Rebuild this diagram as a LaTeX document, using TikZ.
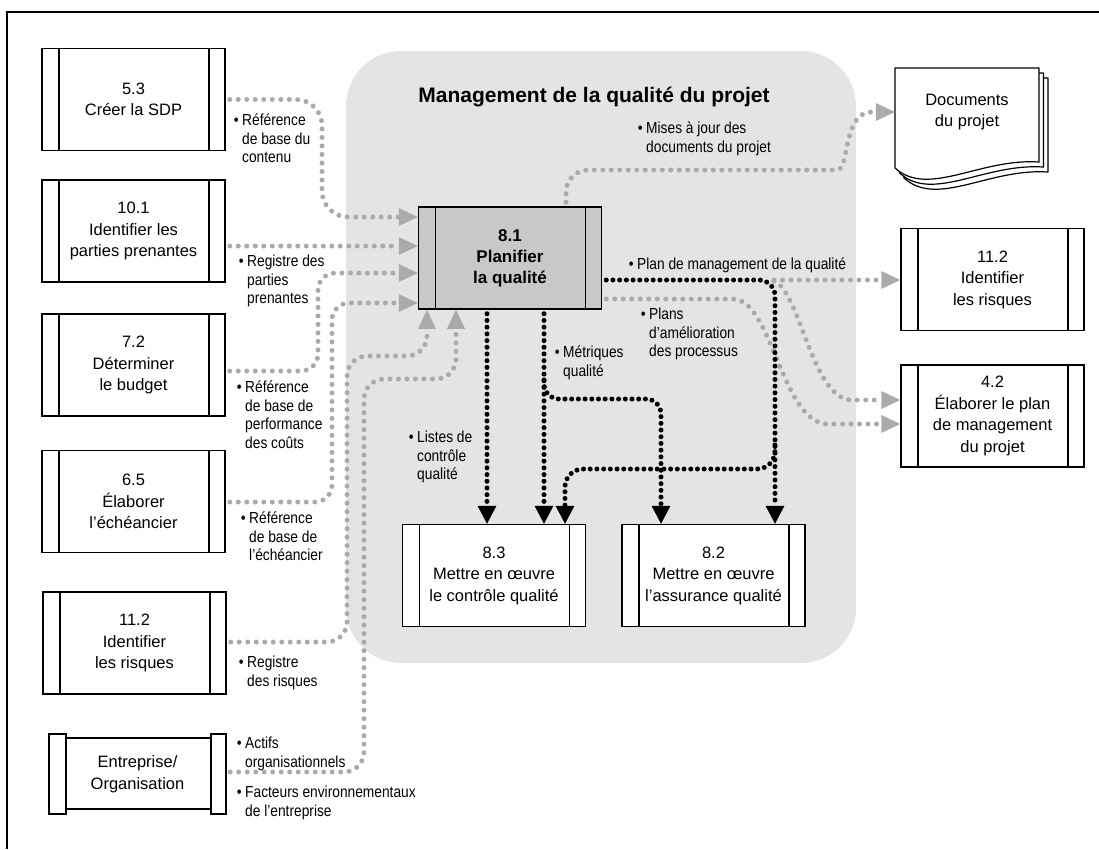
\documentclass[tikz,border=0pt]{standalone}
\usepackage{fontspec}
\setmainfont{Liberation Sans}
\newfontfamily\condfont[FakeStretch=0.86]{Liberation Sans}
\usetikzlibrary{arrows.meta}
\definecolor{regiongray}{RGB}{227,228,227}
\definecolor{boxgray}{RGB}{199,200,200}
\definecolor{dotgray}{RGB}{170,170,170}
\newcommand\bxfont{\fontsize{16.5}{21.5}\selectfont}
\newcommand\lbltext[1]{{\condfont\fontsize{16}{18.5}\selectfont\begin{tabular}[t]{@{}l@{}}\llap{•\hspace{3.5pt}}#1\end{tabular}}}
\tikzset{
  procbox/.style={draw, line width=1.5pt, fill=white, rectangle,
    minimum width=183pt, minimum height=102pt, inner sep=0pt, align=center, font=\bxfont,
    path picture={\draw[line width=1.5pt]
      ([xshift=17pt]path picture bounding box.north west) -- ([xshift=17pt]path picture bounding box.south west)
      ([xshift=-16pt]path picture bounding box.north east) -- ([xshift=-16pt]path picture bounding box.south east);}},
  graylink/.style={draw=dotgray, line width=5pt, line cap=round, dash pattern=on 0pt off 8.5pt,
    shorten <=4pt, -{Triangle[length=19pt,width=18pt,line width=0pt]}},
  blacklink/.style={draw=black, line width=5pt, line cap=round, dash pattern=on 0pt off 6.7pt,
    shorten <=4pt, -{Triangle[length=18pt,width=19pt,line width=0pt]}},
  lbl/.style={anchor=base west, inner sep=0pt},
  pageline/.style={draw, fill=white, line width=1.2pt, line join=round}
}
\begin{document}
\begin{tikzpicture}[x=1pt,y=-1pt]
\useasboundingbox (0,0) rectangle (1099,849);
% frame
\draw[line width=2pt] (7,849) -- (7,12) -- (1099,12);
% region
\fill[regiongray, rounded corners=55pt] (346,51) rectangle (856,663);
\node[font=\fontsize{21}{25}\selectfont\bfseries] (title) at (594,97) {Management de la qualité du projet};

% left process boxes
\node[procbox] (n53) at (133.5,99.5) {5.3\\Créer la SDP};
\node[procbox] (n101) at (133.5,231) {10.1\\Identifier les\\parties prenantes};
\node[procbox] (n72) at (133.5,365) {7.2\\Déterminer\\le budget};
\node[procbox] (n65) at (133.5,501.5) {6.5\\Élaborer\\l’échéancier};
\node[procbox] (n112l) at (134.5,643) {11.2\\Identifier\\les risques};
% Entreprise / Organisation
\draw[line width=1.5pt, fill=white] (66,738) rectangle (211,809);
\draw[line width=1.5pt, fill=white] (49,734) rectangle (66,814);
\draw[line width=1.5pt, fill=white] (211,734) rectangle (226,814);
\node[minimum width=177pt, minimum height=80pt, inner sep=0pt, align=center, font=\bxfont] (ent) at (137.5,774) {Entreprise/\\Organisation};

% central boxes
\node[procbox, fill=boxgray, font=\fontsize{17}{21}\selectfont\bfseries] (n81) at (510,258) {8.1\\Planifier\\la qualité};
\node[procbox] (n83) at (494,575.5) {8.3\\Mettre en œuvre\\le contrôle qualité};
\node[procbox] (n82) at (713.5,575.5) {8.2\\Mettre en œuvre\\l’assurance qualité};

% right boxes
\node[procbox] (n112r) at (992.5,279.5) {11.2\\Identifier\\les risques};
\node[procbox] (n42) at (992.5,416) {4.2\\Élaborer le plan\\de management\\du projet};

% documents
\begin{scope}[shift={(9,10)}]
\path[pageline] (895,68) -- (1039,68) -- (1039,162) .. controls (980,158) and (928,198) .. (895,168) -- cycle;
\end{scope}
\begin{scope}[shift={(4.5,5)}]
\path[pageline] (895,68) -- (1039,68) -- (1039,162) .. controls (980,158) and (928,198) .. (895,168) -- cycle;
\end{scope}
\path[pageline] (895,68) -- (1039,68) -- (1039,162) .. controls (980,158) and (928,198) .. (895,168) -- cycle;
\node[minimum width=144pt, minimum height=100pt, inner sep=0pt, align=center, font=\bxfont] (docs) at (967,112) {Documents\\du projet};

% inputs (gray)
\draw[graylink, rounded corners=26pt] (n53.east) -- (322,99.5) -- (322,217) -- (n81.west |- 0,217);
\draw[graylink] (n101.east |- 0,246) -- (n81.west |- 0,246);
\draw[graylink, rounded corners=17pt] (n72.east |- 0,371) -- (318,371) -- (318,273) -- (n81.west |- 0,273);
\draw[graylink, rounded corners=17pt] (n65.east |- 0,502) -- (332,502) -- (332,303) -- (n81.west |- 0,303);
\draw[graylink, rounded corners=20pt] (n112l.east |- 0,642) -- (347,642) -- (347,356) -- (427,356) -- (n81.south -| 427,0);
\draw[graylink, rounded corners=20pt] (ent.east |- 0,772) -- (364,772) -- (364,379) -- (456,379) -- (n81.south -| 456,0);

% outputs (gray)
\draw[graylink] (n81.north -| 566,0) [rounded corners=22pt] -- (566,170) -- (815,170) [sharp corners] .. controls (850,170) and (842,112) .. (872,112) -- (docs.west |- 0,112);
\coordinate (jp) at (770,280);
\draw[graylink] (jp) -- (n112r.west |- 0,280);
\draw[graylink] (jp) .. controls (800,290) and (812,400) .. (852,400) -- (n42.west |- 0,400);
\draw[graylink] (n81.east |- 0,299) -- (733,299) .. controls (772,299) and (782,424) .. (828,424) -- (n42.west |- 0,424);

% outputs (black)
\draw[blacklink, rounded corners=16pt] (n81.east |- 0,280) -- (775,280) -- (n82.north -| 775,0);
\coordinate (jb) at (775,445);
\draw[blacklink, rounded corners=18pt, shorten <=0pt] (jb) -- (775,469) -- (565,469) -- (n83.north -| 565,0);
\draw[blacklink] (n81.south -| 487,0) -- (n83.north -| 487,0);
\draw[blacklink] (n81.south -| 544,0) -- (n83.north -| 544,0);
\coordinate (jm) at (544,380);
\draw[blacklink, rounded corners=15pt, shorten <=0pt] (jm) -- (544,399) -- (661,399) -- (n82.north -| 661,0);

% labels
\node[lbl] (l1) at (242,125.7) {\lbltext{Référence\\de base du\\contenu}};
\node[lbl] (l2) at (247,266.7) {\lbltext{Registre des\\parties\\prenantes}};
\node[lbl] (l3) at (245,392.7) {\lbltext{Référence\\de base de\\performance\\des coûts}};
\node[lbl] (l4) at (249,523.7) {\lbltext{Référence\\de base de\\l’échéancier}};
\node[lbl] (l5) at (247,667.7) {\lbltext{Registre\\des risques}};
\node[lbl] (l6) at (245,748.7) {\lbltext{Actifs\\organisationnels}};
\node[lbl] (l7) at (245,797.7) {\lbltext{Facteurs environnementaux\\de l’entreprise}};
\node[lbl] (l8) at (646,133.7) {\lbltext{Mises à jour des\\documents du projet}};
\node[lbl] (l9) at (637,269.7) {\lbltext{Plan de management de la qualité}};
\node[lbl] (l10) at (649,319.7) {\lbltext{Plans\\d’amélioration\\des processus}};
\node[lbl] (l11) at (563,357.7) {\lbltext{Métriques\\qualité}};
\node[lbl] (l12) at (417,442.7) {\lbltext{Listes de\\contrôle\\qualité}};
\end{tikzpicture}
\end{document}
